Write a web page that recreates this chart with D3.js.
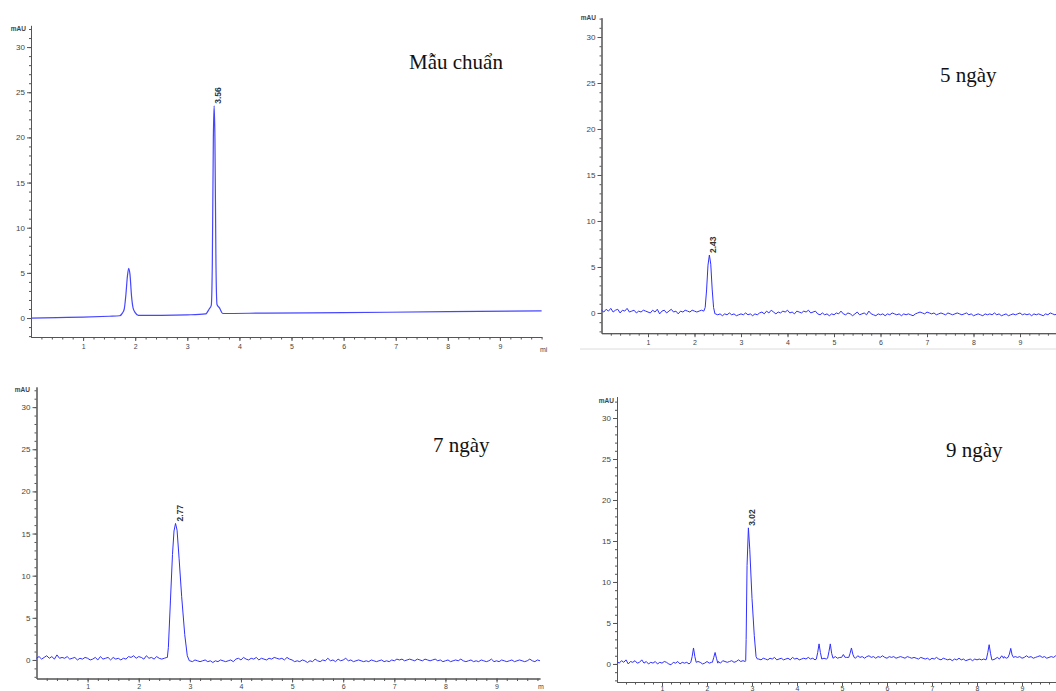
<!DOCTYPE html>
<html>
<head>
<meta charset="utf-8">
<script src="https://cdn.jsdelivr.net/npm/d3@7"></script>
<style>
  body { margin: 0; background: #fff; }
  svg { display: block; }
</style>
</head>
<body>
<svg id="chart" width="1056" height="691"></svg>
<script>
// ---- data ----
var panelTitles = ['Mẫu chuẩn', '5 ngày', '7 ngày', '9 ngày'];
var peakLabels = ['3.56', '2.43', '2.77', '3.02'];
var unitLabels = ['mi', '', 'm', ''];
var yTicks = [0, 5, 10, 15, 20, 25, 30];
var xTicks = [1, 2, 3, 4, 5, 6, 7, 8, 9];
var sampleStep = 0.05; // min between baseline samples

// standard sample: smooth trace, [time (min), mAU]
var traceStd = [[0, 0], [0.5, 0.05], [1.0, 0.1], [1.5, 0.2], [1.7, 0.25], [1.76, 0.6], [1.79, 1.0],
  [1.82, 2.5], [1.85, 4.6], [1.875, 5.5], [1.9, 4.8], [1.93, 2.4], [1.96, 1.1], [2.0, 0.6], [2.06, 0.3],
  [2.5, 0.3], [3.0, 0.35], [3.35, 0.45], [3.42, 1.0], [3.46, 1.4], [3.48, 6], [3.5, 20], [3.515, 23.5],
  [3.53, 20], [3.55, 6], [3.57, 1.5], [3.62, 1.1], [3.68, 0.5], [4.5, 0.55], [6, 0.6], [8, 0.7], [9.8, 0.8]];

// 5 days
var baseline5 =
  '0.3 0.1 0.4 0.2 0.5 0.1 0.3 0.4 0.0 0.3 0.2 0.5 0.1 0.2 0.3 0.0 0.2 0.1 0.3 0.2 ' +
  '0.1 0.0 0.3 0.1 0.4 -0.1 0.2 0.3 0.0 0.2 0.4 0.1 0.2 -0.1 0.2 0.1 0.3 0.2 0.1 0.3 ' +
  '0.2 0.1 0.2 0.3 0.2 0 0 0 0 ' +
  '-0.1 -0.2 -0.1 -0.3 -0.1 -0.2 0.0 -0.2 -0.1 -0.3 -0.2 -0.1 -0.2 0.0 -0.2 -0.1 -0.3 -0.1 -0.2 0.0 ' +
  '0.1 -0.1 0.2 0.0 0.3 0.1 -0.1 0.1 0.0 0.2 0.1 0.3 0.0 0.1 -0.1 0.2 0.1 0.0 0.2 0.1 0.3 0.0 0.1 0.2 ' +
  '-0.1 -0.2 0.0 -0.2 -0.1 -0.3 -0.1 -0.2 0.0 -0.1 0.2 -0.1 -0.2 0.0 -0.1 -0.3 -0.1 0.1 -0.2 -0.1 ' +
  '0.0 -0.2 0.2 -0.1 -0.2 -0.3 -0.1 -0.2 -0.1 -0.3 -0.1 -0.2 0.0 -0.1 -0.2 -0.1 -0.3 -0.1 -0.2 -0.1 ' +
  '-0.2 -0.3 -0.1 0.0 0.1 0.0 -0.1 0.1 0.0 -0.1 0.0 -0.2 -0.1 0.0 -0.1 -0.2 0.0 -0.1 -0.2 -0.1 ' +
  '0.0 -0.1 -0.2 -0.1 0.0 -0.2 -0.1 -0.3 -0.2 -0.1 -0.2 -0.3 -0.1 -0.2 -0.1 -0.2 0.0 -0.2 -0.1 -0.3 ' +
  '-0.2 -0.1 -0.3 -0.2 -0.1 -0.2 -0.1 0.0 -0.2 -0.1 -0.2 -0.1 -0.3 -0.1 -0.2 -0.1 -0.2 -0.3 -0.1 -0.2 ' +
  '0.0 -0.1 -0.2 -0.1 0.0 -0.1 -0.2 -0.1';
var peaks5 = [
  [[2.2, 0.2], [2.23, 0.6], [2.26, 2.5], [2.29, 5.2], [2.32, 6.3], [2.35, 5.3], [2.38, 2.6], [2.41, 0.6], [2.44, -0.1]]
];

// 7 days
var baseline7 =
  '0.2 0.4 0.1 0.3 0.5 0.2 0.4 0.1 0.6 0.2 0.3 0.2 0.4 0.1 0.2 0.3 0.0 0.2 0.1 0.3 ' +
  '0.2 0.0 0.1 0.3 0.0 0.4 0.1 0.2 0.3 0.0 0.3 0.1 0.2 0.0 0.2 0.1 0.4 0.3 0.5 0.2 ' +
  '0.4 0.3 0.1 0.5 0.2 0.3 0.1 0.4 0.2 0.1 0.2 0.3 0 0 0 0 0 0 0 0 ' +
  '-0.1 -0.2 0.0 -0.1 -0.2 -0.1 0.0 -0.2 -0.1 -0.3 -0.1 -0.2 0.0 -0.1 -0.2 -0.1 0.0 -0.2 0.1 0.2 ' +
  '0.0 0.3 0.1 0.0 0.2 0.1 0.3 0.0 0.2 0.1 0.0 0.2 0.1 0.3 0.2 0.1 0.2 0.0 0.3 0.1 ' +
  '0.0 -0.2 -0.1 -0.2 0.0 -0.1 -0.3 -0.1 -0.2 0.1 -0.1 -0.2 0.0 -0.1 0.2 -0.1 0.0 -0.2 0.1 -0.1 ' +
  '0.0 0.2 -0.1 0.0 -0.2 -0.1 0.0 -0.1 -0.2 -0.1 -0.2 0.0 -0.1 -0.2 -0.1 0.0 -0.2 -0.1 -0.2 0.0 ' +
  '-0.1 0.1 0.0 0.1 -0.1 0.0 0.1 0.0 -0.1 0.1 0.0 -0.1 0.1 0.0 -0.1 0.0 0.1 -0.1 0.0 -0.2 ' +
  '-0.1 0.0 -0.2 -0.1 0.0 -0.1 0.1 -0.1 -0.2 -0.1 0.0 -0.2 -0.1 -0.2 0.0 -0.1 -0.2 -0.1 0.1 -0.2 ' +
  '-0.1 -0.2 0.0 -0.1 -0.2 -0.1 0.0 -0.2 -0.1 0.0 -0.1 -0.2 -0.1 0.1 -0.1 -0.2 0.0 -0.1 -0.2 -0.1 -0.1';
var peaks7 = [
  [[2.56, 0.3], [2.58, 1.5], [2.62, 7], [2.66, 12.5], [2.69, 15.3], [2.72, 16.2], [2.75, 15.4],
   [2.79, 12], [2.84, 7.5], [2.9, 3], [2.95, 0.5], [2.99, -0.1]]
];

// 9 days
var baseline9 =
  '0.3 0.1 0.4 0.2 0.5 0.0 0.3 0.2 0.4 0.1 0.2 0.5 0.1 0.3 0.0 0.2 0.1 0.3 0.0 0.2 ' +
  '0.1 0.3 0.2 0.0 -0.1 0.2 0.1 0.3 0.0 0.2 0.1 0.2 0.0 0.3 0.2 0.1 0.3 0.2 0.0 0.1 ' +
  '0.3 0.1 0.2 0.4 0.2 0.3 0.1 0.4 0.3 0.2 0.3 0.4 0.2 0.3 0.5 0.3 0.4 0.3 0 0 0 0 0 ' +
  '0.6 0.5 0.7 0.6 0.5 0.7 0.6 0.8 0.5 0.6 0.7 0.5 0.6 0.7 0.5 0.8 0.6 0.7 0.5 0.6 ' +
  '0.7 0.6 0.8 0.6 0.7 0.5 0.7 0.6 0.8 0.7 0.6 0.8 0.7 0.6 0.9 0.7 0.8 0.6 1.0 0.8 ' +
  '0.7 0.9 0.8 0.7 1.0 0.8 0.9 0.7 0.9 1.0 0.8 0.9 0.7 0.9 0.8 1.0 0.8 0.7 0.9 0.8 ' +
  '0.9 0.7 0.8 0.9 0.8 0.7 0.9 0.8 0.7 0.8 0.7 0.6 0.8 0.7 0.6 0.7 0.5 0.7 0.6 0.8 ' +
  '0.6 0.5 0.7 0.6 0.5 0.6 0.4 0.6 0.5 0.7 0.5 0.6 0.4 0.5 0.6 0.4 0.6 0.5 0.6 0.5 ' +
  '0.6 0.5 0.6 0.7 0.5 0.6 0.8 0.6 0.7 0.9 0.7 0.8 0.9 0.7 0.9 0.8 0.9 0.7 0.8 1.0 ' +
  '0.8 0.9 0.7 0.8 0.9 1.0 0.8 0.9 0.7 0.8 0.9 0.8 1.0 0.8 0.9 0.7 0.8 0.9';
var peaks9 = [
  [[1.64, 0.2], [1.67, 0.9], [1.7, 1.95], [1.73, 0.9], [1.76, 0.2]],
  [[2.12, 0.2], [2.15, 0.8], [2.18, 1.4], [2.21, 0.7], [2.24, 0.1]],
  [[2.86, 0.4], [2.87, 3.0], [2.89, 12], [2.92, 16.6], [2.95, 14], [3.0, 8], [3.05, 3.5], [3.09, 0.9], [3.12, 0.6]],
  [[4.43, 0.6], [4.46, 1.4], [4.49, 2.45], [4.52, 1.4], [4.55, 0.6]],
  [[4.68, 0.7], [4.71, 1.5], [4.74, 2.45], [4.77, 1.3], [4.8, 0.7]],
  [[4.99, 0.8], [5.03, 1.15], [5.07, 0.8]],
  [[5.15, 0.8], [5.18, 1.3], [5.21, 1.95], [5.24, 1.2], [5.27, 0.8]],
  [[8.21, 0.6], [8.24, 1.4], [8.27, 2.35], [8.3, 1.3], [8.33, 0.5]],
  [[8.51, 0.7], [8.55, 1.0], [8.59, 0.7]],
  [[8.69, 0.8], [8.72, 1.2], [8.75, 1.9], [8.78, 1.1], [8.81, 0.8]]
];

// merge a sampled baseline with peak profiles (baseline samples under a peak are dropped)
function buildTrace(baseStr, peaks) {
  var pts = baseStr.trim().split(/\s+/).map(function(v, i) {
    return [+(i * sampleStep).toFixed(3), +v];
  });
  peaks.forEach(function(pk) {
    var t0 = pk[0][0], t1 = pk[pk.length - 1][0];
    pts = pts.filter(function(p) { return p[0] < t0 || p[0] > t1; }).concat(pk);
  });
  return pts.sort(function(a, b) { return a[0] - b[0]; });
}

var traces = [
  traceStd,
  buildTrace(baseline5, peaks5),
  buildTrace(baseline7, peaks7),
  buildTrace(baseline9, peaks9)
];

// ---- layout of the four panels (pixels) ----
var layout = [
  { xr: [31, 541.6], xMax: 9.8, yr: [337, 25.4], yMin: -2.1, yMax: 32.4, title: [409, 69], unit: [540, 352], mau: [26, 31], pad: 3, smooth: true },
  { xr: [601.5, 1066.5], xMax: 10, yr: [333.2, 17.7], yMin: -2.2, yMax: 32.1, title: [940, 82], unit: null, mau: [596, 20], pad: 3 },
  { xr: [36.5, 540], xMax: 9.85, yr: [678.5, 386.9], yMin: -2.2, yMax: 32.4, title: [433, 452], unit: [538, 689], mau: [30, 392], pad: 2 },
  { xr: [617, 1062.5], xMax: 9.9, yr: [682, 396.7], yMin: -2.2, yMax: 32.6, title: [946, 457], unit: null, mau: [614, 403], pad: 0 }
];

var svg = d3.select('#chart');
var axisColor = '#555',
  tickFont = '"Liberation Sans Narrow", "Liberation Sans", Arial, sans-serif';

// thin grey frame line left under the 5-day picture
svg.append('line').attr('x1', 580).attr('x2', 1056).attr('y1', 349).attr('y2', 349)
  .attr('stroke', '#dcdcdc').attr('stroke-width', 1);

layout.forEach(function(L, i) {
  var x = d3.scaleLinear().domain([0, L.xMax]).range(L.xr);
  var y = d3.scaleLinear().domain([L.yMin, L.yMax]).range(L.yr);
  var g = svg.append('g');

  // minor ticks
  g.append('g').attr('transform', 'translate(' + L.xr[0] + ',0)')
    .call(d3.axisLeft(y).tickValues(d3.range(-2, Math.floor(L.yMax) + 1, 1)).tickFormat('').tickSize(2).tickSizeOuter(0));
  g.append('g').attr('transform', 'translate(0,' + L.yr[0] + ')')
    .call(d3.axisBottom(x).tickValues(d3.range(0.2, L.xMax, 0.2)).tickFormat('').tickSize(2.5).tickSizeOuter(0));

  // major ticks
  var yAxis = g.append('g').attr('transform', 'translate(' + L.xr[0] + ',0)')
    .call(d3.axisLeft(y).tickValues(yTicks).tickSize(4).tickPadding(2).tickSizeOuter(0));
  var xAxis = g.append('g').attr('transform', 'translate(0,' + L.yr[0] + ')')
    .call(d3.axisBottom(x).tickValues(xTicks).tickSize(4).tickPadding(L.pad).tickSizeOuter(0));

  g.selectAll('.domain, .tick line').attr('stroke', axisColor);
  yAxis.selectAll('text').attr('font-family', tickFont).attr('font-size', 8).attr('fill', '#444');
  xAxis.selectAll('text').attr('font-family', tickFont).attr('font-size', 7).attr('fill', '#444');

  g.append('text').attr('x', L.mau[0]).attr('y', L.mau[1]).attr('text-anchor', 'end')
    .attr('font-family', tickFont).attr('font-size', 6.5).attr('font-weight', 'bold').attr('fill', '#444')
    .text('mAU');
  if (L.unit) {
    g.append('text').attr('x', L.unit[0]).attr('y', L.unit[1])
      .attr('font-family', tickFont).attr('font-size', 7).attr('fill', '#444').text(unitLabels[i]);
  }

  // trace: smooth for the standard, sample-to-sample for the noisy ones
  var pts = traces[i].filter(function(p) { return p[0] <= L.xMax; });
  var line = d3.line().x(function(d) { return x(d[0]); }).y(function(d) { return y(d[1]); })
    .curve(L.smooth ? d3.curveMonotoneX : d3.curveLinear);
  g.append('path').datum(pts).attr('d', line).attr('fill', 'none')
    .attr('stroke', L.smooth ? '#4646ff' : '#3030ff').attr('stroke-width', L.smooth ? 1.2 : 1)
    .attr('stroke-linejoin', 'round');

  // retention time label on the main peak
  var apex = d3.greatest(pts, function(p) { return p[1]; });
  g.append('text')
    .attr('transform', 'translate(' + (x(apex[0]) + 7) + ',' + (y(apex[1]) - 2) + ') rotate(-90)')
    .attr('font-family', '"Liberation Sans", Arial, sans-serif').attr('font-size', 8.5)
    .attr('font-weight', 'bold').attr('fill', '#333').text(peakLabels[i]);

  // sample title
  g.append('text').attr('x', L.title[0]).attr('y', L.title[1])
    .attr('font-family', '"Liberation Serif", "Times New Roman", serif').attr('font-size', 21)
    .attr('fill', '#111').text(panelTitles[i]);
});
</script>
</body>
</html>
